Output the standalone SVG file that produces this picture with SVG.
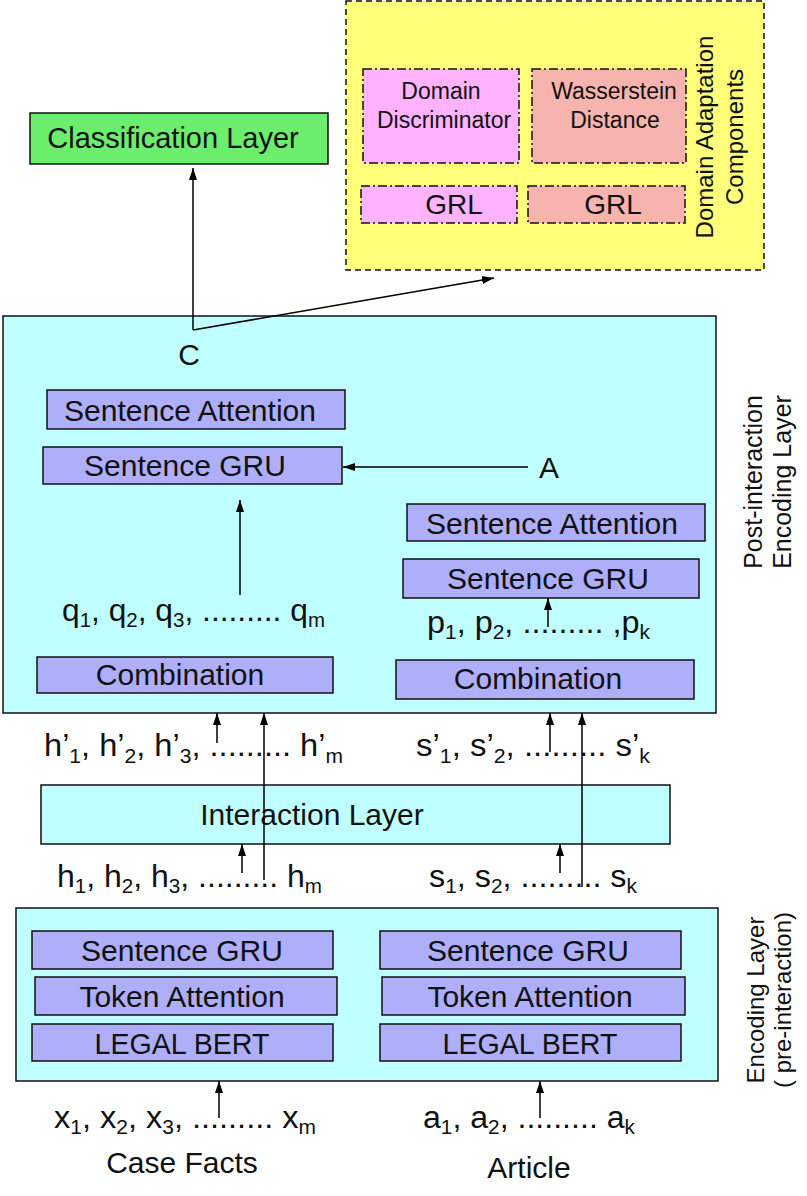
<svg xmlns="http://www.w3.org/2000/svg" width="807" height="1196" viewBox="0 0 807 1196">
<defs>
<marker id="ah" markerWidth="12" markerHeight="10" refX="12" refY="5" orient="auto" markerUnits="userSpaceOnUse">
<path d="M0,1 L12,5 L0,9 Z" fill="#000"/>
</marker>
</defs>
<style>
text{font-family:"Liberation Sans",Arial,sans-serif;fill:#111;}
.t30{font-size:30px;text-anchor:middle;}
.t28{font-size:28px;text-anchor:middle;}
.t23{font-size:23px;text-anchor:middle;}
.v{font-size:24px;text-anchor:middle;}
.lbl{font-size:31px;}
.sub{font-size:20px;}
.cyan{fill:#BFFFFF;stroke:#111;stroke-width:1.5;}
.lav{fill:#AEAEFA;stroke:#111;stroke-width:1.5;}
.dd{stroke:#111;stroke-width:1.5;stroke-dasharray:9 3 2 3;}
.conn line{stroke:#000;stroke-width:1.5;fill:none;}
</style>
<g id="domain-adaptation">
<rect x="346" y="1" width="418" height="269" fill="#FFFF7A" stroke="#111" stroke-width="1.5" stroke-dasharray="6 4"/>
<text class="v" transform="translate(713,137) rotate(-90)">Domain Adaptation</text>
<text class="v" transform="translate(743,137) rotate(-90)">Components</text>
</g>
<g id="domain-discriminator">
<rect class="dd" x="363" y="69" width="156" height="94" fill="#FFB3FF"/>
<text class="t23" x="441" y="99">Domain</text>
<text class="t23" x="444" y="128">Discriminator</text>
</g>
<g id="wasserstein">
<rect class="dd" x="532" y="69" width="154" height="94" fill="#F7B4AE"/>
<text class="t23" x="614" y="99">Wasserstein</text>
<text class="t23" x="615" y="128">Distance</text>
</g>
<g id="grl-1">
<rect class="dd" x="361" y="186" width="156" height="37" fill="#FFB3FF"/>
<text class="t28" x="454" y="214">GRL</text>
</g>
<g id="grl-2">
<rect class="dd" x="528" y="186" width="157" height="37" fill="#F7B4AE"/>
<text class="t28" x="613" y="214">GRL</text>
</g>
<g id="classification">
<rect x="30" y="113" width="298" height="51" fill="#6BEE6B" stroke="#111" stroke-width="1.5"/>
<text class="t30" x="173" y="148" style="font-size:29px">Classification Layer</text>
</g>
<g id="post-interaction">
<rect class="cyan" x="3" y="316" width="713" height="397"/>
<text class="t30" x="189" y="365">C</text>
<text class="t30" x="549" y="478">A</text>
<text class="v" style="font-size:25px" transform="translate(762,482) rotate(-90)">Post-interaction</text>
<text class="v" style="font-size:25px" transform="translate(791,482) rotate(-90)">Encoding Layer</text>
</g>
<g id="sent-att-l"><rect class="lav" x="47" y="390" width="298" height="39"/><text class="t30" x="190" y="421">Sentence Attention</text></g>
<g id="sent-gru-l"><rect class="lav" x="43" y="447" width="299" height="37"/><text class="t30" x="185" y="476">Sentence GRU</text></g>
<g id="comb-l"><rect class="lav" x="37" y="657" width="296" height="36"/><text class="t30" x="180" y="685">Combination</text></g>
<g id="sent-att-r"><rect class="lav" x="407" y="504" width="298" height="37"/><text class="t30" x="552" y="534">Sentence Attention</text></g>
<g id="sent-gru-r"><rect class="lav" x="403" y="559" width="296" height="39"/><text class="t30" x="548" y="589">Sentence GRU</text></g>
<g id="comb-r"><rect class="lav" x="396" y="660" width="298" height="39"/><text class="t30" x="538" y="689">Combination</text></g>
<g id="interaction"><rect class="cyan" x="41" y="785" width="629" height="59"/><text class="t30" x="312" y="825">Interaction Layer</text></g>
<g id="encoding">
<rect class="cyan" x="16" y="908" width="702" height="173"/>
<text class="v" transform="translate(764,1000) rotate(-90)">Encoding Layer</text>
<text class="v" transform="translate(791,1000) rotate(-90)">( pre-interaction)</text>
</g>
<g id="sent-gru-el"><rect class="lav" x="32" y="931" width="301" height="38"/><text class="t30" x="182" y="961">Sentence GRU</text></g>
<g id="tok-att-el"><rect class="lav" x="35" y="977" width="302" height="38"/><text class="t30" x="182" y="1007">Token Attention</text></g>
<g id="bert-el"><rect class="lav" x="32" y="1024" width="301" height="37"/><text class="t30" x="182" y="1054" textLength="175" lengthAdjust="spacingAndGlyphs">LEGAL BERT</text></g>
<g id="sent-gru-er"><rect class="lav" x="380" y="931" width="301" height="38"/><text class="t30" x="528" y="961">Sentence GRU</text></g>
<g id="tok-att-er"><rect class="lav" x="382" y="977" width="303" height="38"/><text class="t30" x="530" y="1007">Token Attention</text></g>
<g id="bert-er"><rect class="lav" x="380" y="1024" width="301" height="37"/><text class="t30" x="530" y="1054" textLength="175" lengthAdjust="spacingAndGlyphs">LEGAL BERT</text></g>
<g id="labels">
<text class="lbl" x="62" y="621" textLength="263" lengthAdjust="spacingAndGlyphs">q<tspan class="sub" dy="6">1</tspan><tspan dy="-6">, q</tspan><tspan class="sub" dy="6">2</tspan><tspan dy="-6">, q</tspan><tspan class="sub" dy="6">3</tspan><tspan dy="-6">, ......... q</tspan><tspan class="sub" dy="6">m</tspan></text>
<text class="lbl" x="427" y="633" textLength="223" lengthAdjust="spacingAndGlyphs">p<tspan class="sub" dy="6">1</tspan><tspan dy="-6">, p</tspan><tspan class="sub" dy="6">2</tspan><tspan dy="-6">, ......... ,p</tspan><tspan class="sub" dy="6">k</tspan></text>
<text class="lbl" x="44" y="756" textLength="299" lengthAdjust="spacingAndGlyphs">h’<tspan class="sub" dy="7">1</tspan><tspan dy="-7">, h’</tspan><tspan class="sub" dy="7">2</tspan><tspan dy="-7">, h’</tspan><tspan class="sub" dy="7">3</tspan><tspan dy="-7">, ......... h’</tspan><tspan class="sub" dy="7">m</tspan></text>
<text class="lbl" x="416" y="756" textLength="234" lengthAdjust="spacingAndGlyphs">s’<tspan class="sub" dy="7">1</tspan><tspan dy="-7">, s’</tspan><tspan class="sub" dy="7">2</tspan><tspan dy="-7">, ......... s’</tspan><tspan class="sub" dy="7">k</tspan></text>
<text class="lbl" x="57" y="887" textLength="265" lengthAdjust="spacingAndGlyphs">h<tspan class="sub" dy="6">1</tspan><tspan dy="-6">, h</tspan><tspan class="sub" dy="6">2</tspan><tspan dy="-6">, h</tspan><tspan class="sub" dy="6">3</tspan><tspan dy="-6">, ......... h</tspan><tspan class="sub" dy="6">m</tspan></text>
<text class="lbl" x="429" y="887" textLength="208" lengthAdjust="spacingAndGlyphs">s<tspan class="sub" dy="6">1</tspan><tspan dy="-6">, s</tspan><tspan class="sub" dy="6">2</tspan><tspan dy="-6">, ......... s</tspan><tspan class="sub" dy="6">k</tspan></text>
<text class="lbl" x="54" y="1128" textLength="262" lengthAdjust="spacingAndGlyphs">x<tspan class="sub" dy="6">1</tspan><tspan dy="-6">, x</tspan><tspan class="sub" dy="6">2</tspan><tspan dy="-6">, x</tspan><tspan class="sub" dy="6">3</tspan><tspan dy="-6">, ......... x</tspan><tspan class="sub" dy="6">m</tspan></text>
<text class="lbl" x="423" y="1128" textLength="212" lengthAdjust="spacingAndGlyphs">a<tspan class="sub" dy="6">1</tspan><tspan dy="-6">, a</tspan><tspan class="sub" dy="6">2</tspan><tspan dy="-6">, ......... a</tspan><tspan class="sub" dy="6">k</tspan></text>
<text class="t30" x="182" y="1173">Case Facts</text>
<text class="t30" x="529" y="1178">Article</text>
</g>
<g id="connectors" class="conn">
<line x1="193" y1="330" x2="193" y2="168" marker-end="url(#ah)"/>
<line x1="193" y1="330" x2="494" y2="278" marker-end="url(#ah)"/>
<line x1="528" y1="467" x2="343" y2="467" marker-end="url(#ah)"/>
<line x1="240" y1="595" x2="240" y2="500" marker-end="url(#ah)"/>
<line x1="548" y1="627" x2="548" y2="598" marker-end="url(#ah)"/>
<line x1="217" y1="743" x2="217" y2="713" marker-end="url(#ah)"/>
<line x1="264" y1="880" x2="264" y2="713" marker-end="url(#ah)"/>
<line x1="550" y1="752" x2="550" y2="713" marker-end="url(#ah)"/>
<line x1="582" y1="887" x2="582" y2="713" marker-end="url(#ah)"/>
<line x1="242" y1="873" x2="242" y2="844" marker-end="url(#ah)"/>
<line x1="560" y1="873" x2="560" y2="844" marker-end="url(#ah)"/>
<line x1="219" y1="1118" x2="219" y2="1081" marker-end="url(#ah)"/>
<line x1="540" y1="1118" x2="540" y2="1081" marker-end="url(#ah)"/>
</g>
</svg>
